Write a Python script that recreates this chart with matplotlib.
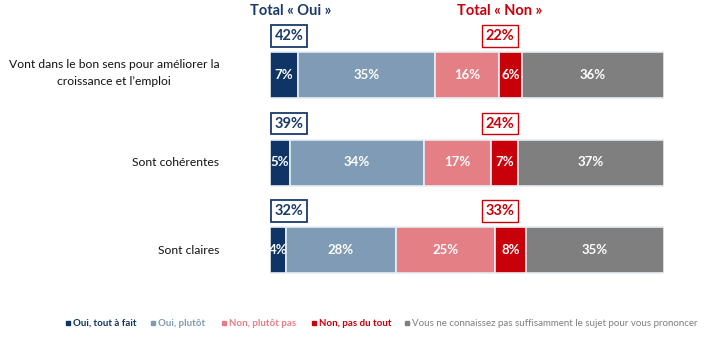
import matplotlib.pyplot as plt
from matplotlib.patches import Rectangle
import numpy as np

plt.rcParams['font.family'] = ['Lato', 'DejaVu Sans']

# survey data
categories = ['Vont dans le bon sens pour améliorer la\ncroissance et l\u2019emploi',
              'Sont cohérentes',
              'Sont claires']
answers = ['Oui, tout à fait', 'Oui, plutôt', 'Non, plutôt pas', 'Non, pas du tout',
           'Vous ne connaissez pas suffisamment le sujet pour vous prononcer']
oui_tout = [7, 5, 4]
oui_plutot = [35, 34, 28]
non_plutot = [16, 17, 25]
non_pas = [6, 7, 8]
nsp = [36, 37, 35]
total_oui = [42, 39, 32]
total_non = [22, 24, 33]

colors = ['#0f3466', '#7f9bb5', '#e48085', '#c8000a', '#7f7f7f']
navy = '#1a3a6b'
red = '#c8000a'

W, H = 718, 342
fig = plt.figure(figsize=(W / 100, H / 100), dpi=100)
# x in percent, y in pixel rows from the top
ax = fig.add_axes([270 / W, 0, 394 / W, 1])
ax.set_xlim(0, 100)
ax.set_ylim(H, 0)
ax.axis('off')

row_y = [75, 162.5, 250]
bar_h = 46
series = [oui_tout, oui_plutot, non_plutot, non_pas, nsp]

for i, y in enumerate(row_y):
    left = 0
    for k, vals in enumerate(series):
        v = vals[i]
        ax.barh(y, v, left=left, height=bar_h, color=colors[k],
                edgecolor='#e8eef4', linewidth=1.2)
        ax.text(left + v / 2, y, '%d%%' % v, color='white', fontsize=9.5,
                fontweight='bold', ha='center', va='center')
        left += v

    # total boxes above each bar
    by = y - 39
    ax.text(4.8, by, '%d%%' % total_oui[i], color=navy, fontsize=10.5,
            fontweight='bold', ha='center', va='center',
            bbox=dict(boxstyle='square,pad=0.25', facecolor='white',
                      edgecolor=navy, linewidth=1.3))
    ax.text(58.3, by, '%d%%' % total_non[i], color=red, fontsize=10.5,
            fontweight='bold', ha='center', va='center',
            bbox=dict(boxstyle='square,pad=0.25', facecolor='white',
                      edgecolor=red, linewidth=1.0))

for i, y in enumerate(row_y):
    ax.text(-12.9, y - (2 if i == 0 else 0), categories[i], fontsize=8.7,
            color='#111111', ha='right', va='center', multialignment='center',
            linespacing=1.65, clip_on=False)

fig.text(291 / W, 1 - 11 / H, 'Total « Oui »', color=navy, fontsize=10.5,
         fontweight='bold', ha='center', va='center')
fig.text(500 / W, 1 - 11 / H, 'Total « Non »', color=red, fontsize=10.5,
         fontweight='bold', ha='center', va='center')

# legend row
leg_x = [68, 153, 224, 314, 407]
for k, name in enumerate(answers):
    fig.patches.append(Rectangle(((leg_x[k] - 2) / W, 1 - 325 / H), 4 / W, 4 / H,
                                 transform=fig.transFigure, color=colors[k]))
    fig.text((leg_x[k] + 5) / W, 1 - 323 / H, name, color=colors[k],
             fontsize=7, fontweight='bold' if k < 4 else 'normal',
             ha='left', va='center')

fig.savefig('out.png', dpi=100)
